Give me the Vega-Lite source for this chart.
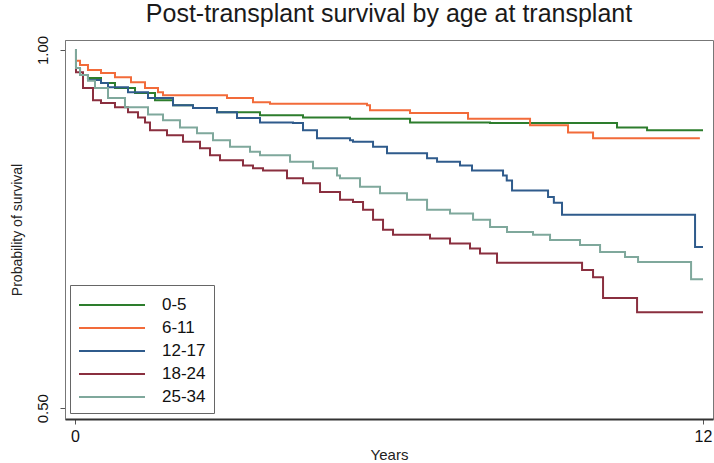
{
  "$schema": "https://vega.github.io/schema/vega-lite/v6.json",
  "width": 648,
  "height": 379,
  "autosize": {"type": "none"},
  "padding": {"left": 65, "top": 40, "right": 1, "bottom": 44},
  "background": "white",
  "title": {
    "text": "Post-transplant survival by age at transplant",
    "font": "Liberation Sans",
    "fontSize": 25,
    "fontWeight": "normal",
    "color": "#1a1a1a",
    "offset": 8
  },
  "config": {
    "view": {"stroke": "#777", "strokeWidth": 1},
    "font": "Liberation Sans"
  },
  "data": {
    "values": [
      {"group": "0-5", "t": 0, "s": 1.0},
      {"group": "0-5", "t": 0.019, "s": 0.975},
      {"group": "0-5", "t": 0.096, "s": 0.965},
      {"group": "0-5", "t": 0.248, "s": 0.961},
      {"group": "0-5", "t": 0.497, "s": 0.954},
      {"group": "0-5", "t": 0.764, "s": 0.947},
      {"group": "0-5", "t": 1.147, "s": 0.940},
      {"group": "0-5", "t": 1.529, "s": 0.930},
      {"group": "0-5", "t": 1.873, "s": 0.923},
      {"group": "0-5", "t": 2.255, "s": 0.919},
      {"group": "0-5", "t": 2.714, "s": 0.913},
      {"group": "0-5", "t": 3.535, "s": 0.909},
      {"group": "0-5", "t": 4.357, "s": 0.906},
      {"group": "0-5", "t": 5.255, "s": 0.904},
      {"group": "0-5", "t": 6.402, "s": 0.899},
      {"group": "0-5", "t": 7.931, "s": 0.898},
      {"group": "0-5", "t": 10.357, "s": 0.892},
      {"group": "0-5", "t": 10.931, "s": 0.888},
      {"group": "0-5", "t": 12.0, "s": 0.888},

      {"group": "6-11", "t": 0, "s": 1.0},
      {"group": "6-11", "t": 0.019, "s": 0.985},
      {"group": "6-11", "t": 0.096, "s": 0.979},
      {"group": "6-11", "t": 0.248, "s": 0.972},
      {"group": "6-11", "t": 0.497, "s": 0.968},
      {"group": "6-11", "t": 0.764, "s": 0.962},
      {"group": "6-11", "t": 1.07, "s": 0.955},
      {"group": "6-11", "t": 1.338, "s": 0.947},
      {"group": "6-11", "t": 1.586, "s": 0.941},
      {"group": "6-11", "t": 1.682, "s": 0.937},
      {"group": "6-11", "t": 2.905, "s": 0.933},
      {"group": "6-11", "t": 3.401, "s": 0.927},
      {"group": "6-11", "t": 3.726, "s": 0.925},
      {"group": "6-11", "t": 5.58, "s": 0.923},
      {"group": "6-11", "t": 5.637, "s": 0.916},
      {"group": "6-11", "t": 6.402, "s": 0.912},
      {"group": "6-11", "t": 7.51, "s": 0.904},
      {"group": "6-11", "t": 8.695, "s": 0.895},
      {"group": "6-11", "t": 9.421, "s": 0.885},
      {"group": "6-11", "t": 9.899, "s": 0.877},
      {"group": "6-11", "t": 11.94, "s": 0.877},

      {"group": "12-17", "t": 0, "s": 1.0},
      {"group": "12-17", "t": 0.019, "s": 0.975},
      {"group": "12-17", "t": 0.096, "s": 0.965},
      {"group": "12-17", "t": 0.248, "s": 0.958},
      {"group": "12-17", "t": 0.497, "s": 0.954},
      {"group": "12-17", "t": 0.631, "s": 0.948},
      {"group": "12-17", "t": 1.013, "s": 0.941},
      {"group": "12-17", "t": 1.395, "s": 0.933},
      {"group": "12-17", "t": 1.873, "s": 0.923},
      {"group": "12-17", "t": 2.255, "s": 0.919},
      {"group": "12-17", "t": 2.714, "s": 0.913},
      {"group": "12-17", "t": 3.096, "s": 0.905},
      {"group": "12-17", "t": 3.535, "s": 0.899},
      {"group": "12-17", "t": 4.166, "s": 0.898},
      {"group": "12-17", "t": 4.357, "s": 0.888},
      {"group": "12-17", "t": 4.624, "s": 0.877},
      {"group": "12-17", "t": 5.255, "s": 0.874},
      {"group": "12-17", "t": 5.312, "s": 0.872},
      {"group": "12-17", "t": 5.695, "s": 0.865},
      {"group": "12-17", "t": 5.962, "s": 0.856},
      {"group": "12-17", "t": 6.727, "s": 0.849},
      {"group": "12-17", "t": 6.918, "s": 0.844},
      {"group": "12-17", "t": 7.357, "s": 0.839},
      {"group": "12-17", "t": 7.586, "s": 0.832},
      {"group": "12-17", "t": 8.179, "s": 0.825},
      {"group": "12-17", "t": 8.25, "s": 0.818},
      {"group": "12-17", "t": 8.351, "s": 0.804},
      {"group": "12-17", "t": 9.039, "s": 0.795},
      {"group": "12-17", "t": 9.15, "s": 0.787},
      {"group": "12-17", "t": 9.306, "s": 0.770},
      {"group": "12-17", "t": 11.848, "s": 0.725},
      {"group": "12-17", "t": 12.0, "s": 0.725},

      {"group": "18-24", "t": 0, "s": 1.0},
      {"group": "18-24", "t": 0.019, "s": 0.969},
      {"group": "18-24", "t": 0.153, "s": 0.947},
      {"group": "18-24", "t": 0.344, "s": 0.930},
      {"group": "18-24", "t": 0.497, "s": 0.926},
      {"group": "18-24", "t": 0.764, "s": 0.920},
      {"group": "18-24", "t": 1.013, "s": 0.913},
      {"group": "18-24", "t": 1.204, "s": 0.906},
      {"group": "18-24", "t": 1.338, "s": 0.899},
      {"group": "18-24", "t": 1.433, "s": 0.888},
      {"group": "18-24", "t": 1.758, "s": 0.881},
      {"group": "18-24", "t": 2.064, "s": 0.872},
      {"group": "18-24", "t": 2.389, "s": 0.863},
      {"group": "18-24", "t": 2.58, "s": 0.853},
      {"group": "18-24", "t": 2.771, "s": 0.846},
      {"group": "18-24", "t": 3.21, "s": 0.839},
      {"group": "18-24", "t": 3.401, "s": 0.835},
      {"group": "18-24", "t": 3.593, "s": 0.832},
      {"group": "18-24", "t": 4.051, "s": 0.821},
      {"group": "18-24", "t": 4.357, "s": 0.814},
      {"group": "18-24", "t": 4.682, "s": 0.802},
      {"group": "18-24", "t": 5.064, "s": 0.791},
      {"group": "18-24", "t": 5.312, "s": 0.788},
      {"group": "18-24", "t": 5.504, "s": 0.777},
      {"group": "18-24", "t": 5.695, "s": 0.763},
      {"group": "18-24", "t": 5.886, "s": 0.749},
      {"group": "18-24", "t": 6.077, "s": 0.742},
      {"group": "18-24", "t": 6.784, "s": 0.737},
      {"group": "18-24", "t": 7.166, "s": 0.730},
      {"group": "18-24", "t": 7.548, "s": 0.723},
      {"group": "18-24", "t": 7.739, "s": 0.716},
      {"group": "18-24", "t": 8.064, "s": 0.703},
      {"group": "18-24", "t": 9.689, "s": 0.693},
      {"group": "18-24", "t": 9.899, "s": 0.683},
      {"group": "18-24", "t": 10.09, "s": 0.654},
      {"group": "18-24", "t": 10.74, "s": 0.634},
      {"group": "18-24", "t": 12.0, "s": 0.634},

      {"group": "25-34", "t": 0, "s": 1.0},
      {"group": "25-34", "t": 0.019, "s": 0.975},
      {"group": "25-34", "t": 0.096, "s": 0.965},
      {"group": "25-34", "t": 0.248, "s": 0.957},
      {"group": "25-34", "t": 0.382, "s": 0.947},
      {"group": "25-34", "t": 0.631, "s": 0.933},
      {"group": "25-34", "t": 0.955, "s": 0.920},
      {"group": "25-34", "t": 1.395, "s": 0.910},
      {"group": "25-34", "t": 1.682, "s": 0.902},
      {"group": "25-34", "t": 2.006, "s": 0.892},
      {"group": "25-34", "t": 2.331, "s": 0.884},
      {"group": "25-34", "t": 2.637, "s": 0.874},
      {"group": "25-34", "t": 2.962, "s": 0.865},
      {"group": "25-34", "t": 3.344, "s": 0.858},
      {"group": "25-34", "t": 3.535, "s": 0.853},
      {"group": "25-34", "t": 4.109, "s": 0.844},
      {"group": "25-34", "t": 4.548, "s": 0.835},
      {"group": "25-34", "t": 5.007, "s": 0.825},
      {"group": "25-34", "t": 5.064, "s": 0.821},
      {"group": "25-34", "t": 5.446, "s": 0.809},
      {"group": "25-34", "t": 5.828, "s": 0.800},
      {"group": "25-34", "t": 6.344, "s": 0.791},
      {"group": "25-34", "t": 6.727, "s": 0.777},
      {"group": "25-34", "t": 7.166, "s": 0.772},
      {"group": "25-34", "t": 7.606, "s": 0.763},
      {"group": "25-34", "t": 7.931, "s": 0.753},
      {"group": "25-34", "t": 8.255, "s": 0.746},
      {"group": "25-34", "t": 8.752, "s": 0.742},
      {"group": "25-34", "t": 9.077, "s": 0.735},
      {"group": "25-34", "t": 9.65, "s": 0.728},
      {"group": "25-34", "t": 10.033, "s": 0.718},
      {"group": "25-34", "t": 10.51, "s": 0.711},
      {"group": "25-34", "t": 10.759, "s": 0.704},
      {"group": "25-34", "t": 11.772, "s": 0.680},
      {"group": "25-34", "t": 12.0, "s": 0.680}
    ]
  },
  "mark": {"type": "line", "interpolate": "step-after", "strokeWidth": 2},
  "encoding": {
    "x": {
      "field": "t",
      "type": "quantitative",
      "scale": {"domain": [-0.191, 12.191], "nice": false, "zero": false},
      "axis": {
        "values": [0, 12],
        "title": "Years",
        "titleFont": "Liberation Sans",
        "titleFontSize": 15,
        "titleFontWeight": "normal",
        "titleColor": "#222",
        "titlePadding": 3,
        "labelFont": "Liberation Sans",
        "labelFontSize": 16,
        "labelColor": "#111",
        "labelPadding": 4,
        "grid": false,
        "domainColor": "#333",
        "domainWidth": 2,
        "tickColor": "#555",
        "tickSize": 5
      }
    },
    "y": {
      "field": "s",
      "type": "quantitative",
      "scale": {"domain": [0.485, 1.014], "nice": false, "zero": false},
      "axis": {
        "values": [0.5, 1.0],
        "format": ".2f",
        "title": "Probability of survival",
        "titleFont": "Liberation Sans",
        "titleFontSize": 14,
        "titleFontWeight": "normal",
        "titleColor": "#222",
        "titlePadding": 11,
        "labelFont": "Liberation Sans",
        "labelFontSize": 15,
        "labelColor": "#111",
        "labelAngle": -90,
        "labelPadding": 10,
        "grid": false,
        "domainColor": "#777",
        "tickColor": "#555",
        "tickSize": 5
      }
    },
    "color": {
      "field": "group",
      "type": "nominal",
      "scale": {
        "domain": ["0-5", "6-11", "12-17", "18-24", "25-34"],
        "range": ["#2d7d2d", "#f26b3a", "#2f5b8c", "#8a2f3f", "#7fa89c"]
      },
      "legend": {
        "title": null,
        "orient": "none",
        "legendX": 5,
        "legendY": 245,
        "symbolType": "M-1,0H5",
        "symbolSize": 484,
        "symbolStrokeWidth": 2,
        "labelFont": "Liberation Sans",
        "labelFontSize": 17,
        "labelColor": "#111",
        "labelOffset": 60,
        "rowPadding": 3,
        "padding": 8,
        "strokeColor": "#666",
        "fillColor": "white"
      }
    }
  }
}
